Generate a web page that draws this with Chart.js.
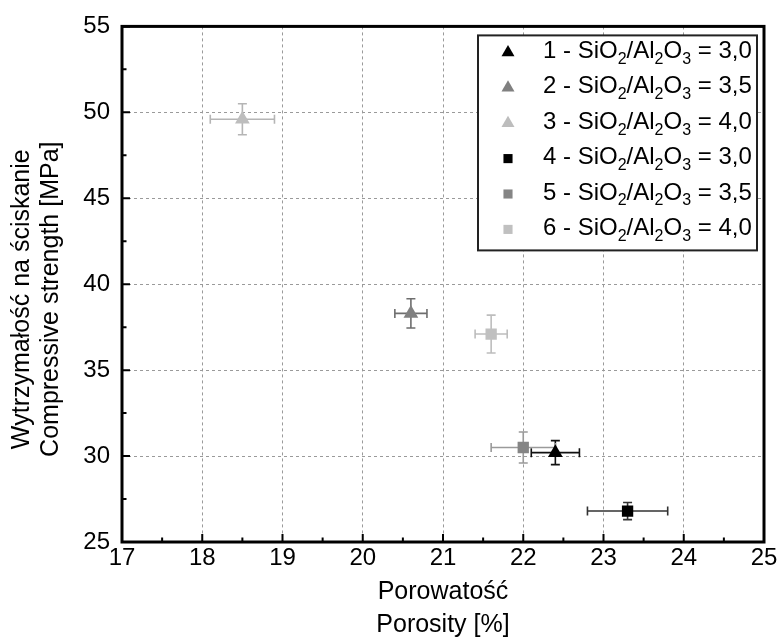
<!DOCTYPE html>
<html><head><meta charset="utf-8">
<script src="https://cdn.jsdelivr.net/npm/chart.js@4.4.1/dist/chart.umd.min.js"></script>
<style>html,body{margin:0;padding:0;background:#fff;}#wrap{width:781px;height:644px;position:relative;}</style>
</head><body><div id="wrap"><canvas id="c" width="781" height="644"></canvas></div>
<script>
// ---- data ----
const seriesNumbers = ['1', '2', '3', '4', '5', '6'];
const ratios = ['3,0', '3,5', '4,0', '3,0', '3,5', '4,0'];
const porosity = [22.4, 20.6, 18.5, 23.3, 22.0, 21.6];
const porosityErr = [0.3, 0.2, 0.4, 0.5, 0.4, 0.2];
const strength = [30.2, 38.3, 49.6, 26.8, 30.5, 37.1];
const strengthErr = [0.7, 0.85, 0.9, 0.5, 0.9, 1.1];
const xTickValues = [17, 18, 19, 20, 21, 22, 23, 24, 25];
const yTickValues = [25, 30, 35, 40, 45, 50, 55];
const xTitle = ['Porowatość', 'Porosity [%]'];
const yTitle = ['Wytrzymałość na ściskanie', 'Compressive strength [MPa]'];

// ---- styles ----
const shapes = ['triangle', 'triangle', 'triangle', 'rect', 'rect', 'rect'];
const fillColors = ['#000000', '#808080', '#bdbdbd', '#000000', '#858585', '#c0c0c0'];
const errColors = ['#111111', '#6e6e6e', '#b5b5b5', '#333333', '#9a9a9a', '#bdbdbd'];
const FONT = '"Liberation Sans", Arial, sans-serif';

const datasets = seriesNumbers.map((n, i) => ({
  label: n + ' - SiO2/Al2O3 = ' + ratios[i],
  data: [{x: porosity[i], y: strength[i]}],
  pointStyle: shapes[i],
  pointRadius: shapes[i] === 'triangle' ? 8.5 : 8,
  pointHoverRadius: 8,
  backgroundColor: fillColors[i],
  borderColor: fillColors[i],
  borderWidth: 0
}));

const errorBars = {
  id: 'errorBars',
  beforeDatasetsDraw(chart) {
    const ctx = chart.ctx, xs = chart.scales.x, ys = chart.scales.y;
    ctx.save();
    ctx.lineWidth = 1.6;
    porosity.forEach((px, i) => {
      const cx = xs.getPixelForValue(px), cy = ys.getPixelForValue(strength[i]);
      const x1 = xs.getPixelForValue(px - porosityErr[i]), x2 = xs.getPixelForValue(px + porosityErr[i]);
      const y1 = ys.getPixelForValue(strength[i] - strengthErr[i]), y2 = ys.getPixelForValue(strength[i] + strengthErr[i]);
      ctx.strokeStyle = errColors[i];
      ctx.beginPath();
      ctx.moveTo(x1, cy); ctx.lineTo(x2, cy);
      ctx.moveTo(x1, cy - 4.5); ctx.lineTo(x1, cy + 4.5);
      ctx.moveTo(x2, cy - 4.5); ctx.lineTo(x2, cy + 4.5);
      ctx.moveTo(cx, y1); ctx.lineTo(cx, y2);
      ctx.moveTo(cx - 4.5, y1); ctx.lineTo(cx + 4.5, y1);
      ctx.moveTo(cx - 4.5, y2); ctx.lineTo(cx + 4.5, y2);
      ctx.stroke();
    });
    ctx.restore();
  }
};

const frame = {
  id: 'frame',
  afterDatasetsDraw(chart) {
    const ctx = chart.ctx, a = chart.chartArea, xs = chart.scales.x, ys = chart.scales.y;
    ctx.save();
    ctx.strokeStyle = '#000';
    ctx.lineWidth = 2;
    ctx.beginPath();
    xTickValues.forEach((v, k) => {
      const p = xs.getPixelForValue(v);
      ctx.moveTo(p, a.bottom); ctx.lineTo(p, a.bottom - 8);
      if (k < xTickValues.length - 1) {
        const m = xs.getPixelForValue((v + xTickValues[k + 1]) / 2);
        ctx.moveTo(m, a.bottom); ctx.lineTo(m, a.bottom - 4.5);
      }
    });
    yTickValues.forEach((v, k) => {
      const p = ys.getPixelForValue(v);
      ctx.moveTo(a.left, p); ctx.lineTo(a.left + 8, p);
      if (k < yTickValues.length - 1) {
        const m = ys.getPixelForValue((v + yTickValues[k + 1]) / 2);
        ctx.moveTo(a.left, m); ctx.lineTo(a.left + 4.5, m);
      }
    });
    ctx.stroke();
    ctx.lineWidth = 3;
    ctx.strokeRect(a.left, a.top, a.right - a.left, a.bottom - a.top);
    ctx.restore();
  }
};

const yTitlePlugin = {
  id: 'yTitlePlugin',
  afterDraw(chart) {
    const ctx = chart.ctx, a = chart.chartArea;
    ctx.save();
    ctx.fillStyle = '#000';
    ctx.font = '25px ' + FONT;
    ctx.textAlign = 'center';
    ctx.textBaseline = 'middle';
    const cy = (a.top + a.bottom) / 2 + 15;
    yTitle.forEach((t, k) => {
      ctx.save();
      ctx.translate(22 + k * 29, cy);
      ctx.rotate(-Math.PI / 2);
      ctx.fillText(t, 0, 0);
      ctx.restore();
    });
    ctx.restore();
  }
};

function drawMarker(ctx, shape, x, y, r, color) {
  ctx.fillStyle = color;
  ctx.beginPath();
  if (shape === 'triangle') {
    ctx.moveTo(x, y - r);
    ctx.lineTo(x + r * 0.866, y + r * 0.5);
    ctx.lineTo(x - r * 0.866, y + r * 0.5);
    ctx.closePath();
  } else {
    ctx.rect(x - r * 0.7, y - r * 0.7, r * 1.4, r * 1.4);
  }
  ctx.fill();
}

const richLegend = {
  id: 'richLegend',
  afterDraw(chart) {
    const ctx = chart.ctx, a = chart.chartArea;
    const bx = a.right - 286, by = a.top + 9, bw = 279, bh = 215;
    ctx.save();
    ctx.fillStyle = '#fff';
    ctx.fillRect(bx, by, bw, bh);
    ctx.strokeStyle = '#222';
    ctx.lineWidth = 2;
    ctx.strokeRect(bx, by, bw, bh);
    const big = '24px ' + FONT, small = '16px ' + FONT;
    seriesNumbers.forEach((n, i) => {
      const cy = by + 16 + i * 35.4;
      drawMarker(ctx, shapes[i], bx + 30, cy + 1, shapes[i] === 'triangle' ? 7.5 : 6.5, fillColors[i]);
      const parts = [
        [n + ' - SiO', false], ['2', true], ['/Al', false], ['2', true], ['O', false], ['3', true], [' = ' + ratios[i], false]
      ];
      let x = bx + 65;
      ctx.fillStyle = '#000';
      ctx.textBaseline = 'middle';
      ctx.textAlign = 'left';
      parts.forEach(([t, sub]) => {
        ctx.font = sub ? small : big;
        ctx.fillText(t, x, sub ? cy + 8 : cy);
        x += ctx.measureText(t).width;
      });
    });
    ctx.restore();
  }
};

new Chart(document.getElementById('c'), {
  type: 'scatter',
  data: {datasets},
  options: {
    responsive: false,
    animation: false,
    devicePixelRatio: 1,
    layout: {padding: {top: 24, right: 17, left: 0, bottom: 0}},
    plugins: {legend: {display: false}, tooltip: {enabled: false}},
    scales: {
      x: {
        type: 'linear', min: 17, max: 25,
        afterBuildTicks(s) { s.ticks = xTickValues.map(v => ({value: v})); },
        ticks: {font: {family: FONT, size: 24}, color: '#000', padding: 2, maxRotation: 0},
        grid: {color: '#9a9a9a', lineWidth: 1, drawTicks: false},
        border: {display: false, dash: [3, 3]},
        title: {display: true, text: xTitle, color: '#000', font: {family: FONT, size: 25, lineHeight: 1.3}, padding: {top: 0, bottom: 3}},
        afterFit(s) { s.height = 102; }
      },
      y: {
        type: 'linear', min: 25, max: 55,
        afterBuildTicks(s) { s.ticks = yTickValues.map(v => ({value: v})); },
        ticks: {font: {family: FONT, size: 24}, color: '#000', padding: 12},
        grid: {color: '#9a9a9a', lineWidth: 1, drawTicks: false},
        border: {display: false, dash: [3, 3]},
        title: {display: false},
        afterFit(s) { s.width = 122; }
      }
    }
  },
  plugins: [errorBars, frame, yTitlePlugin, richLegend]
});
</script></body></html>
